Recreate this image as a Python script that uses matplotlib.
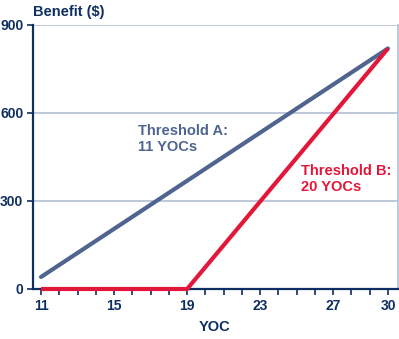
import matplotlib
matplotlib.use("Agg")
import matplotlib.pyplot as plt
from matplotlib.ticker import MultipleLocator

# Data
yoc_a = [11, 30]
benefit_a = [41, 820]
yoc_b = [11, 19, 30]
benefit_b = [0, 0, 820]
x_ticks = [11, 15, 19, 23, 27, 30]
y_ticks = [0, 300, 600, 900]

navy = "#0f2f60"
blue = "#4f6590"
red = "#e3173a"
grid = "#b4bfd6"

plt.rcParams['font.family'] = ['Liberation Sans', 'DejaVu Sans']
plt.rcParams['font.weight'] = 'bold'

fig = plt.figure(figsize=(3.99, 3.39), dpi=100)
ax = fig.add_axes([33/399, 1-289/339, (398-33)/399, (289-25)/339])

ax.set_xlim(10.56, 30.55)
ax.set_ylim(0, 900)

ax.set_yticks(y_ticks[1:])
for y in y_ticks[1:]:
    ax.axhline(y, color=grid, lw=1.2, zorder=0)

ax.plot(yoc_a, benefit_a, color=blue, lw=3, solid_capstyle='round', zorder=3)
ax.plot(yoc_b, benefit_b, color=red, lw=3, solid_capstyle='butt', zorder=4, clip_on=False)

ax.set_xticks(x_ticks)
ax.set_yticks(y_ticks)
ax.xaxis.set_minor_locator(MultipleLocator(1))
ax.tick_params(axis='both', which='major', colors=navy, labelsize=10, length=4, width=1.2, pad=3)
ax.tick_params(axis='x', which='minor', colors=navy, length=4, width=1.2)
for lab in ax.get_xticklabels() + ax.get_yticklabels():
    lab.set_fontweight('bold')

for s in ['top']:
    ax.spines[s].set_visible(False)
ax.spines['right'].set_color(grid)
ax.spines['right'].set_linewidth(1.2)
ax.spines['left'].set_color(navy)
ax.spines['left'].set_linewidth(1.6)
ax.spines['bottom'].set_color(navy)
ax.spines['bottom'].set_linewidth(1.6)

fig.text(33/399, 1-12/339, "Benefit ($)", color=navy, fontsize=10.5, fontweight='bold',
         ha='left', va='center')
fig.text(215/399, 1-327/339, "YOC", color=navy, fontsize=10.5, fontweight='bold',
         ha='center', va='center')

ax.text(138/399, 1-124/339, "Threshold A:\n11 YOCs", transform=fig.transFigure,
        color=blue, fontsize=10.5, fontweight='bold', ha='left', va='top', linespacing=1.15)
ax.text(301/399, 1-164/339, "Threshold B:\n20 YOCs", transform=fig.transFigure,
        color=red, fontsize=10.5, fontweight='bold', ha='left', va='top', linespacing=1.15)

fig.savefig("out.png", dpi=100)
